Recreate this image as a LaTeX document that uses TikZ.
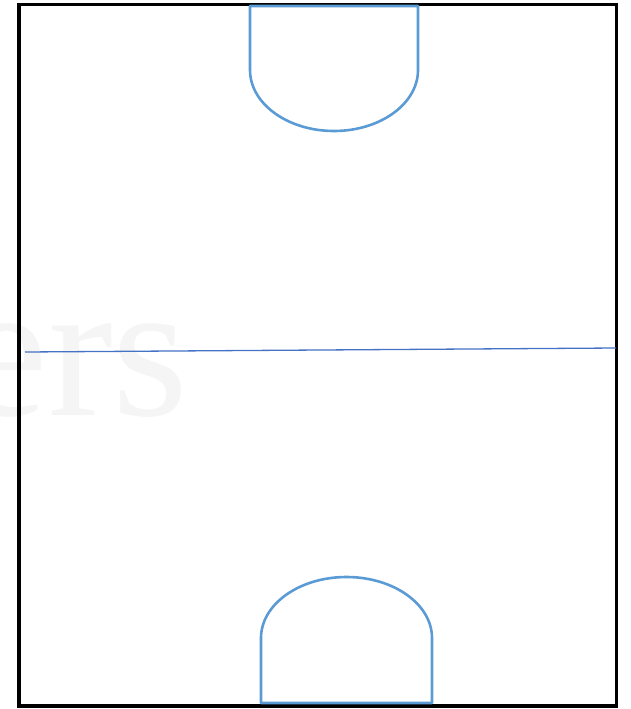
\documentclass[tikz,border=0pt]{standalone}
\usepackage{fontspec}
\setmainfont{Liberation Serif}
\usepackage{xcolor}
\usepackage{tikz}
\usetikzlibrary{positioning}
\definecolor{areablue}{HTML}{5B9BD5}
\definecolor{lineblue}{HTML}{4472C4}
\tikzstyle{pitch} = [
draw=black,
line width=3.2pt
]
\tikzstyle{area} = [
draw=areablue,
line width=2.6pt,
line join=round
]
\tikzstyle{midline} = [
draw=lineblue,
line width=1.3pt
]
\tikzstyle{watermark} = [
anchor=base east,
inner sep=0pt,
text=black!4,
font=\fontsize{195}{195}\selectfont
]

\begin{document}
\begin{tikzpicture}[x=1pt,y=-1pt]
			
			\useasboundingbox (0,0) rectangle (630,709);
			\clip (0,0) rectangle (630,709);
			
			\node (wm) [watermark] at (189,415) {ers};
			
			\draw [pitch] (19,4.5) rectangle (616.5,706);
			
			\draw [area] (250,6) -- (250,70) arc (180:0:84 and 61) -- (418,6) -- cycle;
			
			\draw [area] (261,703) -- (261,638) arc (180:360:85.5 and 61) -- (432,703) -- cycle;
			
			\coordinate (ml) at (25,352);
			\coordinate (mr) at (616,348);
			\draw [midline] (ml) -- (mr);
			
		\end{tikzpicture}
\end{document}
